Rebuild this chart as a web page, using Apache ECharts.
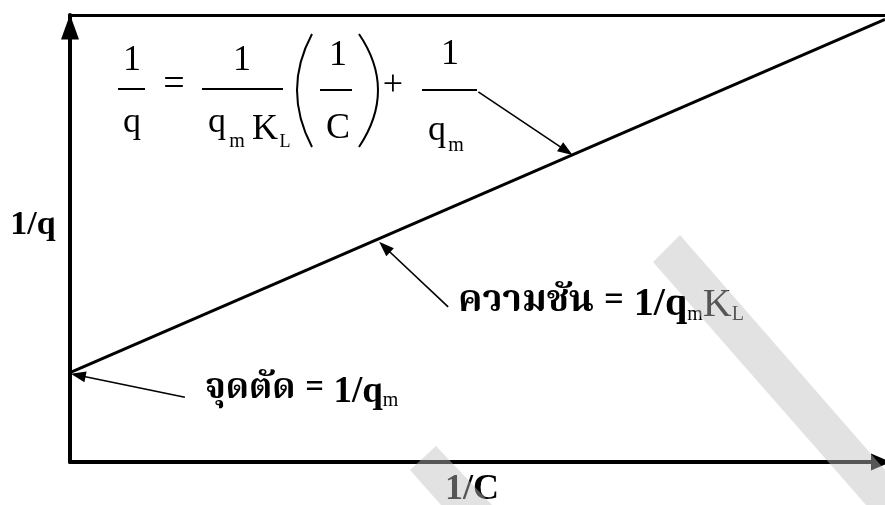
<!DOCTYPE html>
<html>
<head>
<meta charset="utf-8">
<script src="https://cdn.jsdelivr.net/npm/echarts@6/dist/echarts.min.js"></script>
<style>
  html, body { margin: 0; padding: 0; background: #fff; }
  #chart { width: 885px; height: 505px; }
</style>
</head>
<body>
<div id="chart"></div>
<script>
// straight line 1/q vs 1/C (axis units, no scale shown)
const lineX = [0, 10];
const lineY = [2.0, 9.9];
// annotation pointers: from text -> tip on the graph
const pointerFrom = [[5.01, 8.28], [4.64, 3.47], [1.41, 1.45]];
const pointerTo = [[6.09, 6.96], [3.86, 4.81], [0.10, 1.94]];
const slopeLabel = "ความชัน = ";
const interceptLabel = "จุดตัด = ";

const serif = '"Liberation Serif", "Times New Roman", serif';
const thai = '"Noto Serif Thai", "Noto Sans Thai", "Loma", "Garuda", "Liberation Serif", serif';

function txt(text, x, y, size, weight) {
  return {
    type: "text",
    z: 50,
    style: {
      text: text, x: x, y: y,
      font: (weight ? weight + " " : "") + size + "px " + serif,
      fill: "#000",
      align: "center",
      verticalAlign: "middle",
    },
  };
}
function bar(x1, x2, y) {
  return { type: "line", z: 50, shape: { x1: x1, y1: y, x2: x2, y2: y }, style: { stroke: "#000", lineWidth: 2 } };
}
function paren(x, cx) {
  return {
    type: "bezierCurve", z: 50,
    shape: { x1: x, y1: 34, cpx1: cx, cpy1: 90, x2: x, y2: 147 },
    style: { stroke: "#000", lineWidth: 2, fill: null },
  };
}

const chart = echarts.init(document.getElementById("chart"));
const option = {
  animation: false,
  backgroundColor: "#fff",
  grid: { left: 70, right: 0, top: 15, bottom: 43 },
  xAxis: [
    {
      type: "value", min: 0, max: 10,
      axisLine: {
        onZero: false,
        lineStyle: { color: "#000", width: 4 },
        symbol: ["none", "triangle"],
        symbolSize: [17, 20],
        symbolOffset: [0, -4],
      },
      axisTick: { show: false }, axisLabel: { show: false }, splitLine: { show: false },
    },
    {
      type: "value", min: 0, max: 10, position: "top",
      axisLine: { onZero: false, lineStyle: { color: "#000", width: 3 } },
      axisTick: { show: false }, axisLabel: { show: false }, splitLine: { show: false },
    },
  ],
  yAxis: {
    type: "value", min: 0, max: 10,
    axisLine: {
      onZero: false,
      lineStyle: { color: "#000", width: 4 },
      symbol: ["none", "triangle"],
      symbolSize: [18, 25],
      symbolOffset: [0, -12],
    },
    axisTick: { show: false }, axisLabel: { show: false }, splitLine: { show: false },
  },
  series: [
    {
      type: "line",
      data: lineX.map((x, i) => [x, lineY[i]]),
      symbol: "none",
      lineStyle: { color: "#000", width: 3 },
      silent: true,
      markLine: {
        silent: true,
        symbol: ["none", "triangle"],
        symbolSize: [11, 15],
        label: { show: false },
        lineStyle: { color: "#000", width: 1.6, type: "solid" },
        data: pointerFrom.map((p, i) => [{ coord: p }, { coord: pointerTo[i] }]),
      },
    },
  ],
  graphic: [
    // equation 1/q = 1/(qm KL) (1/C) + 1/qm
    txt("1", 132, 61, 36), bar(118, 145, 89), txt("q", 132, 123, 36),
    txt("=", 174, 85, 38),
    txt("1", 242, 61, 36), bar(202, 283, 89),
    txt("q", 217, 123, 36), txt("m", 237, 142, 20), txt("K", 265, 130, 36), txt("L", 285, 142, 18),
    paren(312, 282), paren(359, 397),
    txt("1", 338, 56, 36), bar(320, 352, 90), txt("C", 338, 129, 36),
    txt("+", 393, 86, 36),
    txt("1", 450, 55, 36), bar(422, 477, 90), txt("q", 437, 131, 36), txt("m", 456, 146, 20),
    // axis names
    txt("1/q", 33, 225, 34, "bold"),
    txt("1/C", 472, 490, 36, "bold"),
    // slope / intercept labels
    {
      type: "text", z: 50,
      style: {
        x: 458, y: 305, align: "left", verticalAlign: "middle",
        text: "{a|" + slopeLabel + "}{b|1/q}{s|m}{k|K}{s|L}",
        rich: {
          a: { fontFamily: thai, fontSize: 37, fontWeight: "bold", fill: "#000" },
          b: { fontFamily: serif, fontSize: 40, fontWeight: "bold", fill: "#000" },
          k: { fontFamily: serif, fontSize: 40, fill: "#000" },
          s: { fontFamily: serif, fontSize: 20, fill: "#000", verticalAlign: "bottom", padding: [16, 0, 0, 0] },
        },
      },
    },
    {
      type: "text", z: 50,
      style: {
        x: 205, y: 392, align: "left", verticalAlign: "middle",
        text: "{a|" + interceptLabel + "}{b|1/q}{s|m}",
        rich: {
          a: { fontFamily: thai, fontSize: 35, fontWeight: "bold", fill: "#000" },
          b: { fontFamily: serif, fontSize: 37, fontWeight: "bold", fill: "#000" },
          s: { fontFamily: serif, fontSize: 20, fill: "#000", verticalAlign: "bottom", padding: [16, 0, 0, 0] },
        },
      },
    },
    // grey watermark stripes on top
    {
      type: "polygon", z: 100,
      shape: { points: [[653, 262], [680, 235], [885, 470], [885, 505], [866, 505]] },
      style: { fill: "rgba(190,190,190,0.45)" },
    },
    {
      type: "polygon", z: 100,
      shape: { points: [[410, 470], [436, 446], [492, 505], [441, 505]] },
      style: { fill: "rgba(190,190,190,0.45)" },
    },
  ],
};
chart.setOption(option);
</script>
</body>
</html>
